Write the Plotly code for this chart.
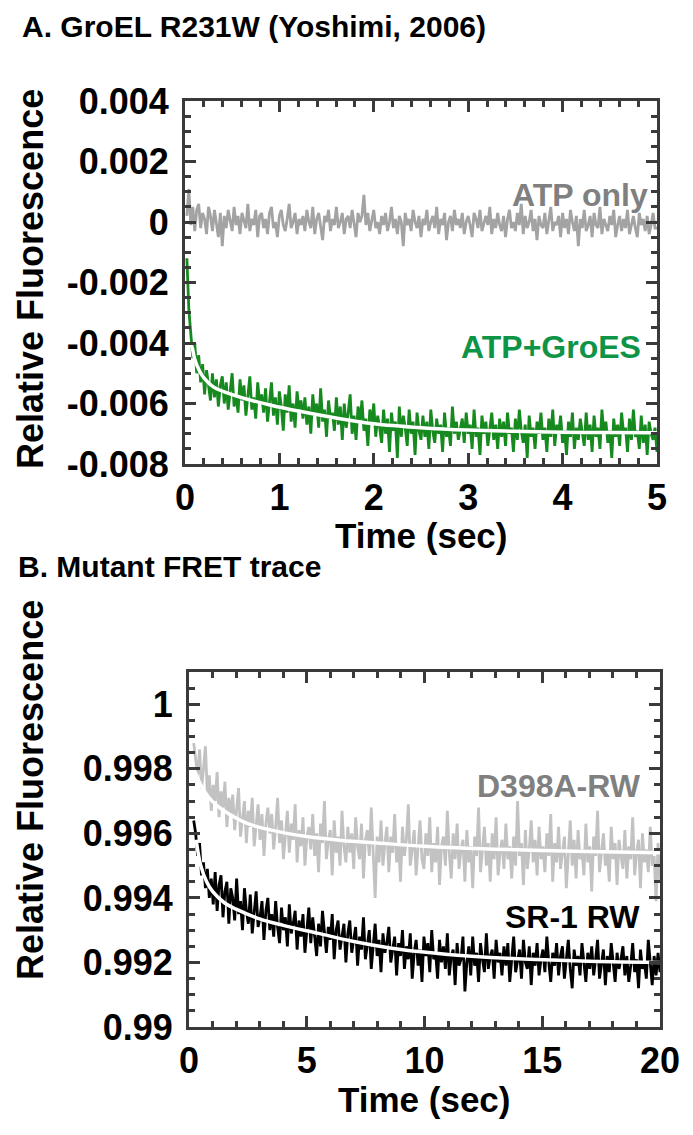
import numpy as np
import plotly.graph_objects as go

W, H = 693, 1135

# ---------------- Panel A data (values in units of 1e-4), 240 samples 0.02-5 s ----------------
ATP_ONLY_E4 = [
    2, 11, -1, 5, -3, 4, 6, -2, 3, 1, -4, 5, 2, -3, 4, 0, -5, 3, -8, 2,
    -2, 4, 1, -3, 5, -1, 2, -4, 3, 0, -2, 6, -3, 1, -1, 4, -5, 2, 3, -2,
    1, -4, 3, 5, -2, 0, -5, 2, 4, -1, -3, 1, 6, -2, 0, 3, -4, 1, -1, 2,
    -3, 4, 0, -2, 5, -4, 1, 3, -1, -6, 2, 0, 4, -3, 1, -1, 5, -2, 0, 3,
    -4, 1, 2, -2, 4, -1, -5, 3, 0, 2, 9, -1, 3, -3, 1, 4, -2, 0, -4, 2,
    -1, 3, -3, 0, 5, -2, 1, -4, 2, 0, -8, 3, -1, 1, -3, 4, 0, -2, 2, -5,
    1, -1, 4, -3, 0, 2, -2, 5, -4, 1, -1, 3, -6, 0, 2, -3, 4, -1, 1, -2,
    3, -4, 0, 2, -1, -5, 3, 1, -2, 4, -3, 0, 2, -1, 5, -4, 1, -2, 3, -1,
    -3, 2, -5, 1, 4, -2, 0, -3, 3, -1, 6, -4, 2, -2, 0, 4, -3, 1, -6, 2,
    -1, -2, 3, -4, 1, 5, -3, 0, -1, 2, -5, 3, -2, 1, -4, 4, 0, -3, 2, -8,
    1, -2, 4, -3, -1, 2, -5, 3, -1, -2, 5, -4, 1, -1, -3, 2, -1, 4, -5, -1,
    2, -3, 1, -2, 4, -4, -1, 2, -2, -5, 3, -1, 1, -3, 2, -4, -1, 3, -2, -2,
]
GROES_E4 = [
    -12, -29, -37, -45, -40, -50, -44, -53, -47, -57, -49, -55, -59, -50, -58, -52, -61, -54, -51, -60,
    -53, -62, -55, -50, -61, -57, -63, -52, -59, -54, -64, -56, -51, -62, -58, -65, -53, -60, -57, -63,
    -55, -66, -59, -53, -64, -58, -67, -56, -61, -69, -57, -63, -54, -66, -60, -68, -56, -62, -59, -65,
    -58, -67, -61, -70, -57, -64, -60, -68, -55, -66, -62, -71, -59, -65, -63, -69, -58, -67, -61, -72,
    -60, -68, -63, -57, -70, -64, -72, -61, -66, -59, -69, -65, -74, -62, -67, -60, -71, -64, -68, -73,
    -62, -70, -65, -76, -63, -69, -66, -78, -61, -71, -64, -68, -74, -62, -70, -66, -77, -63, -69, -72,
    -64, -71, -66, -75, -62, -69, -73, -65, -70, -67, -76, -63, -71, -68, -74, -61, -70, -66, -72, -69,
    -65, -73, -63, -70, -67, -75, -62, -71, -68, -77, -64, -70, -66, -74, -69, -63, -72, -67, -75, -65,
    -71, -66, -74, -63, -70, -68, -76, -65, -72, -62, -69, -73, -67, -78, -64, -71, -68, -75, -66, -70,
    -63, -72, -68, -76, -65, -71, -62, -74, -67, -70, -64, -73, -69, -77, -66, -71, -63, -75, -68, -72,
    -65, -70, -74, -63, -72, -67, -76, -64, -71, -68, -75, -62, -70, -66, -73, -69, -78, -65, -71, -67,
    -74, -63, -70, -68, -76, -65, -72, -62, -71, -69, -75, -64, -73, -67, -77, -66, -70, -72, -68, -76,
]
FIT_A_T = [0.06, 0.08, 0.1, 0.15, 0.2, 0.3, 0.45, 0.65, 0.9, 1.2, 1.6, 2.0, 2.5, 3.0, 3.5, 4.0, 4.5, 5.0]
FIT_A_E4 = [-40, -42, -45, -49, -51.5, -54.5, -56.5, -58.5, -60.5, -62.5, -64.8, -66.7, -68, -68.8, -69.2, -69.5, -69.6, -69.7]

# ---------------- Panel B data (deviation from 1, units of 1e-4), 240 samples 0.2-20 s ----------------
D398A_E4 = [
    -12, -17, -22, -14, -26, -20, -13, -28, -22, -33, -25, -30, -21, -35, -27, -32, -24, -38, -29, -34,
    -28, -39, -32, -26, -41, -35, -30, -43, -33, -38, -29, -44, -36, -31, -42, -34, -47, -37, -32, -40,
    -34, -45, -38, -29, -43, -36, -48, -40, -33, -46, -37, -42, -31, -49, -39, -44, -35, -50, -41, -38,
    -45, -34, -47, -40, -52, -37, -43, -30, -48, -42, -39, -53, -36, -46, -41, -50, -33, -44, -49, -38,
    -46, -40, -51, -35, -44, -48, -37, -54, -42, -39, -47, -32, -45, -60, -41, -49, -36, -50, -43, -38,
    -52, -41, -46, -34, -49, -43, -55, -38, -47, -42, -31, -50, -45, -39, -53, -44, -36, -48, -51, -40,
    -47, -35, -52, -43, -49, -38, -56, -44, -41, -50, -33, -46, -54, -40, -48, -37, -51, -45, -42, -55,
    -39, -49, -44, -57, -41, -47, -32, -52, -45, -38, -50, -43, -55, -40, -48, -35, -53, -46, -42, -51,
    -37, -48, -44, -54, -41, -50, -30, -47, -43, -56, -39, -51, -45, -36, -49, -42, -53, -38, -48, -44,
    -52, -40, -47, -34, -55, -43, -49, -38, -51, -46, -41, -57, -44, -36, -50, -42, -54, -39, -48, -45,
    -53, -37, -49, -44, -58, -41, -47, -33, -52, -45, -40, -50, -46, -55, -38, -48, -43, -56, -42, -47,
    -51, -39, -54, -44, -48, -35, -53, -46, -42, -57, -40, -49, -45, -52, -38, -50, -47, -61, -43, -55,
]
SR1_E4 = [
    -36, -40, -47, -43, -53, -49, -57, -51, -60, -54, -62, -52, -64, -56, -53, -66, -58, -55, -68, -57,
    -60, -67, -54, -65, -61, -70, -57, -64, -68, -59, -71, -63, -58, -69, -66, -61, -73, -64, -60, -70,
    -65, -72, -61, -69, -74, -63, -70, -66, -75, -62, -71, -68, -64, -76, -67, -72, -65, -77, -69, -63,
    -74, -66, -72, -78, -68, -75, -64, -71, -77, -69, -73, -65, -79, -70, -67, -76, -72, -68, -80, -71,
    -67, -77, -73, -69, -81, -72, -76, -66, -79, -74, -70, -82, -75, -68, -78, -73, -83, -71, -77, -74,
    -69, -80, -76, -72, -84, -74, -78, -70, -82, -75, -79, -71, -85, -77, -73, -81, -76, -86, -72, -78,
    -74, -83, -70, -79, -77, -85, -73, -80, -75, -82, -71, -84, -78, -76, -87, -74, -81, -79, -72, -89,
    -80, -75, -84, -72, -81, -77, -86, -74, -79, -83, -71, -82, -78, -76, -85, -73, -80, -77, -84, -75,
    -81, -74, -86, -78, -72, -83, -79, -76, -85, -73, -80, -82, -75, -87, -77, -81, -74, -84, -79, -76,
    -83, -72, -80, -86, -77, -81, -74, -84, -78, -75, -85, -79, -73, -82, -88, -76, -81, -78, -84, -74,
    -80, -86, -77, -82, -75, -84, -79, -73, -85, -81, -76, -87, -78, -83, -74, -80, -86, -77, -82, -79,
    -75, -84, -78, -86, -81, -74, -83, -79, -88, -76, -82, -80, -85, -73, -81, -87, -78, -84, -77, -83,
]
FIT_D_T = [0.2, 0.5, 0.8, 1.2, 1.7, 2.5, 3.5, 5, 6.5, 8, 10, 12.5, 15, 17.5, 20]
FIT_D_E4 = [-20, -25, -28.5, -31.5, -34, -37, -39, -41, -42.2, -43, -44, -44.8, -45.3, -45.7, -46]
FIT_S_T = [0.3, 0.5, 0.75, 1.0, 1.5, 2, 3, 4, 5.5, 7, 9, 11, 13.5, 16, 18, 20]
FIT_S_E4 = [-42, -50, -55, -58, -61.5, -63.5, -66.5, -68.5, -71, -73.5, -76, -77.5, -78.7, -79.4, -79.8, -80]

A_TICKS = [0.004, 0.002, 0, -0.002, -0.004, -0.006, -0.008]
A_TICKTEXT = ["0.004", "0.002", "0", "-0.002", "-0.004", "-0.006", "-0.008"]
B_TICKS = [1.0, 0.998, 0.996, 0.994, 0.992, 0.99]
B_TICKTEXT = ["1", "0.998", "0.996", "0.994", "0.992", "0.99"]

# sampling grids (uniform acquisition times)
t_a = np.linspace(0.02, 5.0, len(ATP_ONLY_E4))
t_b = np.linspace(0.2, 20.0, len(D398A_E4))

FONT = "Liberation Sans, Arial, sans-serif"

fig = go.Figure()
def trace(x, y, color, width, shape, xa, ya):
    fig.add_trace(go.Scatter(x=x, y=y, mode="lines",
                             line=dict(color=color, width=width, shape=shape),
                             xaxis=xa, yaxis=ya, showlegend=False, hoverinfo="skip"))

trace(t_a, np.array(ATP_ONLY_E4) * 1e-4, "#a3a3a3", 2.8, "linear", "x", "y")
trace(t_a, np.array(GROES_E4) * 1e-4, "#168a1e", 2.8, "linear", "x", "y")
trace(FIT_A_T, np.array(FIT_A_E4) * 1e-4, "white", 3.5, "spline", "x", "y")

trace(t_b, 1 + np.array(D398A_E4) * 1e-4, "#c2c2c2", 2.8, "linear", "x2", "y2")
trace(FIT_D_T, 1 + np.array(FIT_D_E4) * 1e-4, "white", 3.5, "spline", "x2", "y2")
trace(t_b, 1 + np.array(SR1_E4) * 1e-4, "black", 2.8, "linear", "x2", "y2")
trace(FIT_S_T, 1 + np.array(FIT_S_E4) * 1e-4, "white", 3.5, "spline", "x2", "y2")

AX = dict(showline=True, linecolor="#3a3a3a", linewidth=3, mirror="ticks",
          ticks="inside", ticklen=11, tickwidth=3, tickcolor="#3a3a3a",
          showgrid=False, zeroline=False,
          tickfont=dict(family=FONT, size=36, color="black", weight="bold"))
MINOR = dict(ticks="inside", ticklen=6, tickwidth=2.5, tickcolor="#3a3a3a")

def px_x(p):
    return p / W

def px_y(p):
    return 1 - p / H

fig.update_layout(
    width=W, height=H, plot_bgcolor="white", paper_bgcolor="white",
    margin=dict(l=0, r=0, t=0, b=0, autoexpand=False),
    xaxis=dict(AX, domain=[px_x(185), px_x(657)], range=[0, 5], anchor="y",
               tickvals=[0, 1, 2, 3, 4, 5], ticklabelstandoff=0,
               minor=dict(MINOR, dtick=0.2)),
    yaxis=dict(AX, domain=[px_y(464), px_y(101)], range=[-0.008, 0.004], anchor="x",
               tickvals=A_TICKS, ticktext=A_TICKTEXT, ticklabelstandoff=6,
               minor=dict(MINOR, dtick=0.0005)),
    xaxis2=dict(AX, domain=[px_x(189), px_x(660)], range=[0, 20], anchor="y2",
                tickvals=[0, 5, 10, 15, 20], ticklabelstandoff=0,
                minor=dict(MINOR, dtick=1)),
    yaxis2=dict(AX, domain=[px_y(1027), px_y(672)], range=[0.99, 1.001], anchor="x2",
                tickvals=B_TICKS, ticktext=B_TICKTEXT, ticklabelstandoff=6,
                minor=dict(MINOR, dtick=0.0005)),
)

def ann(text, x, y, size, color="black", xanchor="center", angle=0):
    fig.add_annotation(text=text, x=px_x(x), y=px_y(y), xref="paper", yref="paper",
                       xanchor=xanchor, yanchor="middle", showarrow=False, textangle=angle,
                       font=dict(family=FONT, size=size, color=color, weight="bold"))

ann("A. GroEL R231W (Yoshimi, 2006)", 20, 26, 30, xanchor="left")
ann("B. Mutant FRET trace", 16, 566, 30, xanchor="left")
ann("Relative Fluorescence", 30, 279, 36, angle=-90)
ann("Relative Fluorescence", 30, 790, 36, angle=-90)
ann("Time (sec)", 421, 535, 35)
ann("Time (sec)", 424, 1099, 35)
ann("ATP only", 650, 195, 32, color="#808080", xanchor="right")
ann("ATP+GroES", 643, 347, 32, color="#0e9447", xanchor="right")
ann("D398A-RW", 643, 786, 32, color="#808080", xanchor="right")
ann("SR-1 RW", 642, 917, 32, color="black", xanchor="right")

fig.write_html("out.html", config={"displayModeBar": False},
               post_script="document.body.style.margin='0px';")
